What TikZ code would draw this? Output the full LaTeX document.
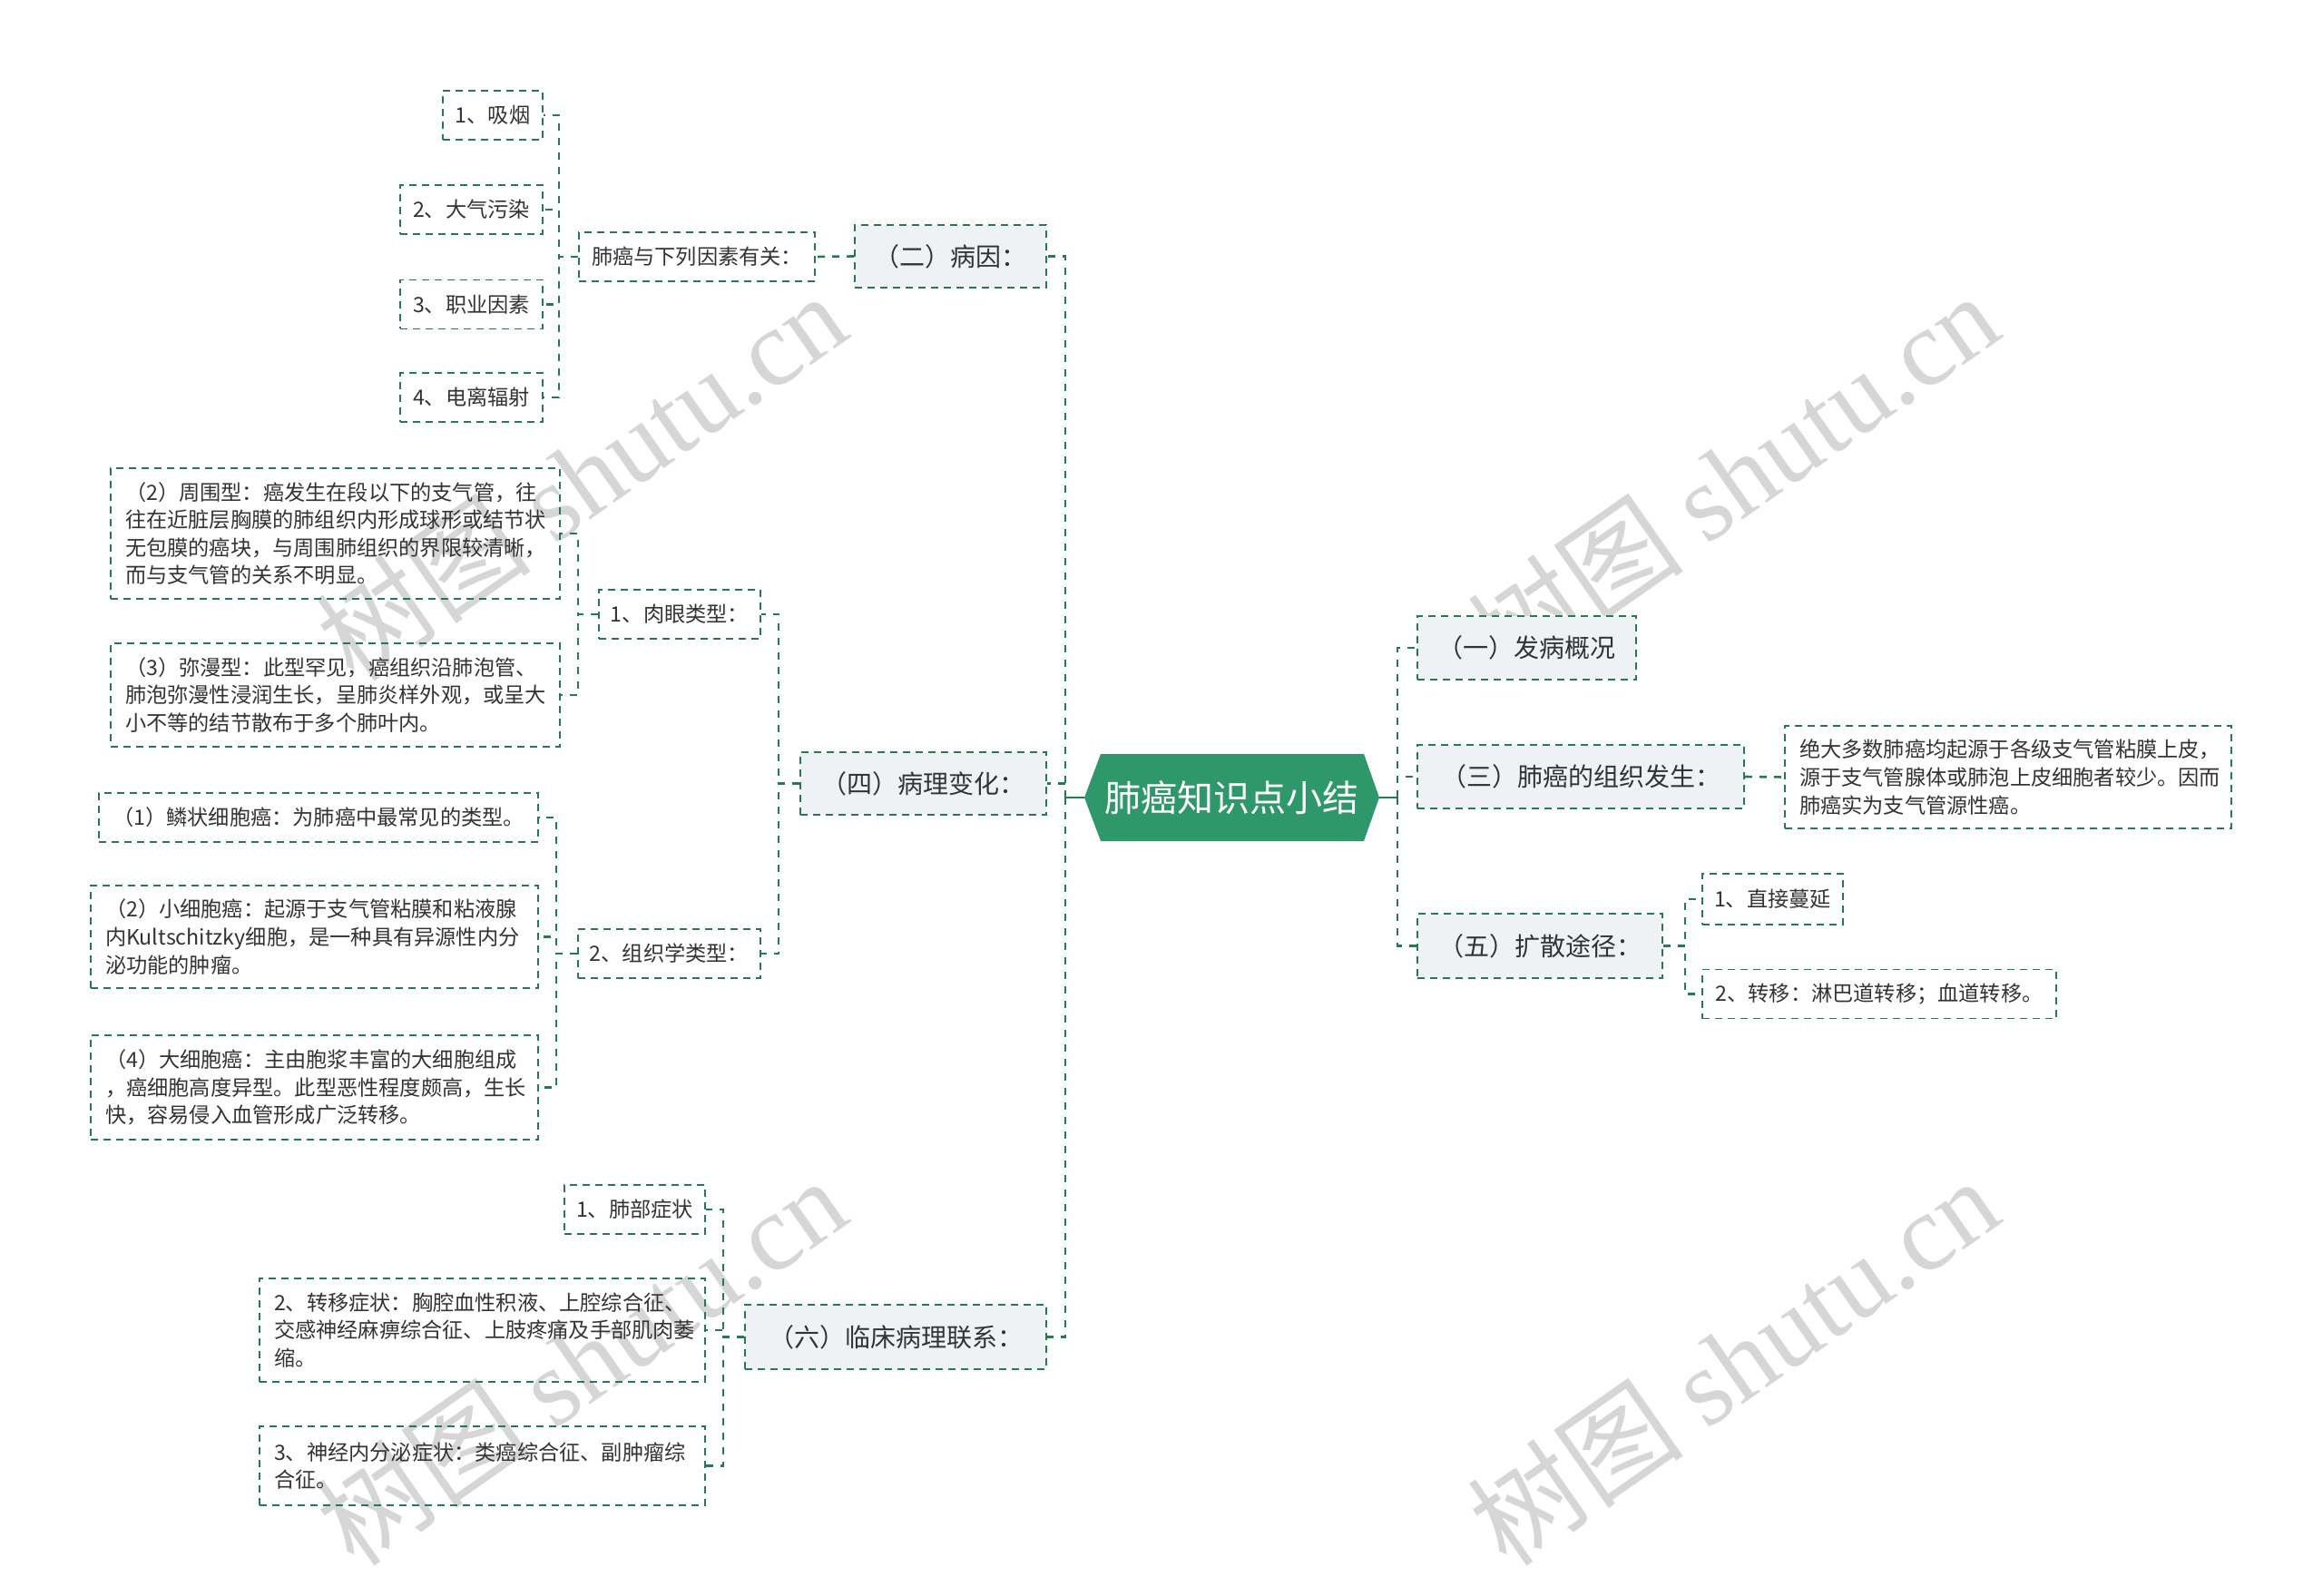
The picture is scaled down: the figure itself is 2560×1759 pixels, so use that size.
\documentclass[tikz,border=0pt]{standalone}
\usepackage{fontspec}
\setmainfont{Noto Sans CJK SC}
\newfontfamily\wmlat{Liberation Serif}
\usetikzlibrary{calc}
\definecolor{lineg}{RGB}{38,122,82}
\definecolor{mainfill}{RGB}{46,152,106}
\definecolor{lonefill}{RGB}{238,242,245}
\definecolor{txt}{RGB}{51,51,51}
\definecolor{wm}{RGB}{214,214,214}
\tikzset{
  conn/.style={draw=lineg, line width=1.3pt, dash pattern=on 4pt off 4pt},
  solidconn/.style={draw=lineg, line width=1.3pt},
  boxbase/.style={draw=lineg, line width=0.85pt, dash pattern=on 4pt off 3pt, text=txt, inner sep=0pt, rectangle},
  lone/.style={boxbase, fill=lonefill, font=\fontsize{14}{17}\selectfont},
  leaf/.style={boxbase, font=\fontsize{11.6}{15.3}\selectfont},
  longleaf/.style={leaf, align=left, inner xsep=8pt},
  wmark/.style={text=wm, rotate=35, font=\fontsize{60}{60}\selectfont, inner sep=0pt}
}
\begin{document}
\begin{tikzpicture}[x=0.5pt,y=-0.5pt]
\useasboundingbox (0,0) rectangle (2560,1759);
\fill[white] (0,0) rectangle (2560,1759);

% watermarks
\node[wmark] (wm1) at (640,525) {树图 {\wmlat shutu.cn}};
\node[wmark] (wm2) at (1910,525) {树图 {\wmlat shutu.cn}};
\node[wmark] (wm3) at (640,1500) {树图 {\wmlat shutu.cn}};
\node[wmark] (wm4) at (1910,1500) {树图 {\wmlat shutu.cn}};

% central node
\fill[mainfill] (1195,879) -- (1213,831) -- (1503,831) -- (1520,879) -- (1503,927) -- (1213,927) -- cycle;
\node[text=white, font=\fontsize{20}{24}\selectfont, inner sep=0pt] (root) at (1357,879) {肺癌知识点小结};
\coordinate (cL) at (1195,879);
\coordinate (cR) at (1520,879);
\coordinate (ltrunk) at (1174,879);
\coordinate (rtrunk) at (1540,879);

% right side
\node[lone, minimum width=120.5pt, minimum height=35pt] (A1) at (1682.5,714) {（一）发病概况};
\node[lone, minimum width=180pt, minimum height=35pt] (A3) at (1742,856) {（三）肺癌的组织发生：};
\node[longleaf, text width=230pt, minimum height=56.5pt] (A3t) at (2213,856.5) {绝大多数肺癌均起源于各级支气管粘膜上皮，\\源于支气管腺体或肺泡上皮细胞者较少。因而\\肺癌实为支气管源性癌。};
\node[lone, minimum width=135pt, minimum height=35.5pt] (A5) at (1697,1042.5) {（五）扩散途径：};
\node[leaf, minimum width=77.5pt, minimum height=28pt] (A5a) at (1953.5,991) {1、直接蔓延};
\node[leaf, minimum width=195pt, minimum height=27pt] (A5b) at (2071,1095.5) {2、转移：淋巴道转移；血道转移。};

% left side
\node[lone, minimum width=105.5pt, minimum height=34.5pt] (B2) at (1047.5,282.5) {（二）病因：};
\node[leaf, minimum width=130pt, minimum height=27pt] (B2a) at (768,283) {肺癌与下列因素有关：};
\node[leaf, minimum width=55pt, minimum height=27pt] (B2a1) at (543,127) {1、吸烟};
\node[leaf, minimum width=78.5pt, minimum height=27pt] (B2a2) at (519.5,231) {2、大气污染};
\node[leaf, minimum width=78.5pt, minimum height=27pt] (B2a3) at (519.5,335.5) {3、职业因素};
\node[leaf, minimum width=78.5pt, minimum height=27pt] (B2a4) at (519.5,438) {4、电离辐射};

\node[lone, minimum width=135.5pt, minimum height=34.5pt] (B4) at (1017.5,863.5) {（四）病理变化：};
\node[leaf, minimum width=89pt, minimum height=27pt] (B4a) at (749,677) {1、肉眼类型：};
\node[leaf, minimum width=100.5pt, minimum height=27pt] (B4b) at (737.5,1051) {2、组织学类型：};
\node[longleaf, text width=231.5pt, minimum height=72pt] (B4a2) at (369.5,588) {（2）周围型：癌发生在段以下的支气管，往\\往在近脏层胸膜的肺组织内形成球形或结节状\\无包膜的癌块，与周围肺组织的界限较清晰，\\而与支气管的关系不明显。};
\node[longleaf, text width=231.5pt, minimum height=57pt] (B4a3) at (369.5,766) {（3）弥漫型：此型罕见，癌组织沿肺泡管、\\肺泡弥漫性浸润生长，呈肺炎样外观，或呈大\\小不等的结节散布于多个肺叶内。};
\node[leaf, minimum width=242pt, minimum height=27pt] (B4b1) at (351,901) {（1）鳞状细胞癌：为肺癌中最常见的类型。};
\node[longleaf, text width=230.5pt, minimum height=56.5pt] (B4b2) at (346.5,1032.5) {（2）小细胞癌：起源于支气管粘膜和粘液腺\\内Kultschitzky细胞，是一种具有异源性内分\\泌功能的肿瘤。};
\node[longleaf, text width=230.5pt, minimum height=57.5pt] (B4b4) at (346.5,1198.5) {（4）大细胞癌：主由胞浆丰富的大细胞组成\\，癌细胞高度异型。此型恶性程度颇高，生长\\快，容易侵入血管形成广泛转移。};

\node[lone, minimum width=166pt, minimum height=35.5pt] (B6) at (987,1473.5) {（六）临床病理联系：};
\node[leaf, minimum width=77.5pt, minimum height=27pt] (B6a) at (699.5,1333) {1、肺部症状};
\node[longleaf, text width=229.5pt, minimum height=57pt] (B6b) at (531.5,1466) {2、转移症状：胸腔血性积液、上腔综合征、\\交感神经麻痹综合征、上肢疼痛及手部肌肉萎\\缩。};
\node[longleaf, text width=229.5pt, minimum height=43.5pt] (B6c) at (531.5,1615.5) {3、神经内分泌症状：类癌综合征、副肿瘤综\\合征。};

% connectors: root
\draw[solidconn] (cL) -- (ltrunk);
\draw[solidconn] (cR) -- (rtrunk);
\draw[conn] (rtrunk) |- (A1.west);
\draw[conn] (rtrunk) |- (A3.west);
\draw[conn] (rtrunk) |- (A5.west);
\draw[conn] (ltrunk) |- (B2.east);
\draw[conn] (ltrunk) |- (B4.east);
\draw[conn] (ltrunk) |- (B6.east);

% right children
\draw[conn] (A3.east) -- (A3t.west);
\draw[conn] (A5.east) -- ++(24,0) |- (A5a.west);
\draw[conn] (A5.east) -- ++(24,0) |- (A5b.west);

% left children
\draw[conn] (B2.west) -- (B2a.east);
\foreach \c in {B2a1,B2a2,B2a3,B2a4} \draw[conn] (B2a.west) -- ++(-21,0) |- (\c.east);
\foreach \c in {B4a,B4b} \draw[conn] (B4.west) -- ++(-23,0) |- (\c.east);
\foreach \c in {B4a2,B4a3} \draw[conn] (B4a.west) -- ++(-22,0) |- (\c.east);
\foreach \c in {B4b1,B4b2,B4b4} \draw[conn] (B4b.west) -- ++(-23,0) |- (\c.east);
\foreach \c in {B6a,B6b,B6c} \draw[conn] (B6.west) -- ++(-23,0) |- (\c.east);
\end{tikzpicture}
\end{document}
